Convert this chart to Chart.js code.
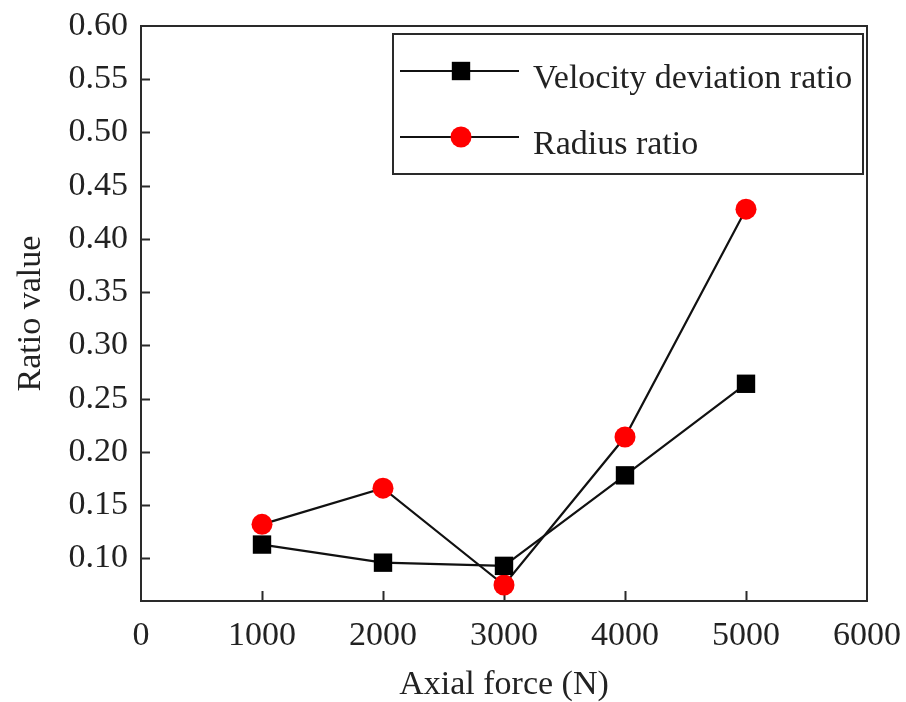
<!DOCTYPE html>
<html><head><meta charset="utf-8">
<script src="https://cdn.jsdelivr.net/npm/chart.js@4.4.0/dist/chart.umd.min.js"></script>
<style>html,body{margin:0;padding:0;background:#fff}#wrap{width:906px;height:702px}</style>
</head><body><div id="wrap"><canvas id="c" width="906" height="702"></canvas></div>
<script>
const axialForce = [1000, 2000, 3000, 4000, 5000];
const velocityDeviationRatio = [0.113, 0.096, 0.093, 0.178, 0.264];
const radiusRatio = [0.132, 0.166, 0.075, 0.214, 0.428];
const xTickValues = [0, 1000, 2000, 3000, 4000, 5000, 6000];
const yTickValues = [0.10, 0.15, 0.20, 0.25, 0.30, 0.35, 0.40, 0.45, 0.50, 0.55, 0.60];
const seriesNames = ['Velocity deviation ratio', 'Radius ratio'];

const FONT = "'Liberation Serif', 'Times New Roman', serif";
const FS = 34;
const TXT = '#222';
const AX = '#2a2a2a';

const framePlugin = {
  id: 'frame',
  beforeDatasetsDraw(chart) {
    const {ctx, chartArea: a, scales: {x, y}} = chart;
    ctx.save();
    ctx.strokeStyle = AX;
    ctx.lineWidth = 2;
    ctx.strokeRect(a.left, a.top, a.right - a.left, a.bottom - a.top);
    ctx.beginPath();
    xTickValues.forEach(v => {
      const px = Math.round(x.getPixelForValue(v)) + 0.5;
      if (px <= a.left + 2 || px >= a.right - 2) return;
      ctx.moveTo(px, a.bottom);
      ctx.lineTo(px, a.bottom - 10);
    });
    yTickValues.forEach(v => {
      const py = Math.round(y.getPixelForValue(v)) + 0.5;
      if (py <= a.top + 2 || py >= a.bottom - 2) return;
      ctx.moveTo(a.left, py);
      ctx.lineTo(a.left + 9, py);
    });
    ctx.stroke();
    ctx.restore();
  }
};

const legendPlugin = {
  id: 'boxLegend',
  afterDatasetsDraw(chart) {
    const {ctx} = chart;
    const bx = 393, by = 34, bw = 470, bh = 140;
    ctx.save();
    ctx.fillStyle = '#fff';
    ctx.fillRect(bx, by, bw, bh);
    ctx.strokeStyle = AX;
    ctx.lineWidth = 2;
    ctx.strokeRect(bx, by, bw, bh);
    const rows = [71, 137];
    chart.data.datasets.forEach((ds, i) => {
      const yy = rows[i];
      ctx.strokeStyle = ds.borderColor;
      ctx.lineWidth = ds.borderWidth;
      ctx.beginPath();
      ctx.moveTo(400, yy); ctx.lineTo(519, yy);
      ctx.stroke();
      ctx.fillStyle = ds.pointBackgroundColor;
      if (ds.pointStyle === 'rect') {
        const s = ds.pointRadius * Math.SQRT1_2;
        ctx.fillRect(461 - s, yy - s, 2 * s, 2 * s);
      } else {
        ctx.beginPath();
        ctx.arc(461, yy, ds.pointRadius, 0, Math.PI * 2);
        ctx.fill();
      }
      ctx.fillStyle = TXT;
      ctx.font = FS + 'px ' + FONT;
      ctx.textBaseline = 'alphabetic';
      ctx.textAlign = 'left';
      ctx.fillText(ds.label, 533, yy + 17);
    });
    ctx.restore();
  }
};

new Chart(document.getElementById('c'), {
  type: 'line',
  data: {
    datasets: [
      {
        label: seriesNames[0],
        data: axialForce.map((f, i) => ({x: f, y: velocityDeviationRatio[i]})),
        borderColor: '#111', borderWidth: 2.2,
        pointStyle: 'rect', pointRadius: 13, pointHoverRadius: 13,
        pointBackgroundColor: '#000', pointBorderWidth: 0,
        tension: 0, fill: false
      },
      {
        label: seriesNames[1],
        data: axialForce.map((f, i) => ({x: f, y: radiusRatio[i]})),
        borderColor: '#111', borderWidth: 2.2,
        pointStyle: 'circle', pointRadius: 10.5, pointHoverRadius: 10.5,
        pointBackgroundColor: '#ff0000', pointBorderWidth: 0,
        tension: 0, fill: false
      }
    ]
  },
  options: {
    responsive: false,
    animation: false,
    devicePixelRatio: 1,
    layout: {padding: {top: 26, right: 39, left: 0, bottom: 0}},
    plugins: {legend: {display: false}, tooltip: {enabled: false}},
    scales: {
      x: {
        type: 'linear', min: 0, max: 6000,
        afterBuildTicks: s => { s.ticks = xTickValues.map(v => ({value: v})); },
        afterFit: s => { s.height = 101; s.paddingLeft = 0; s.paddingRight = 0; },
        grid: {display: false, drawTicks: false},
        border: {display: false},
        ticks: {color: TXT, font: {family: FONT, size: FS}, padding: 15, maxRotation: 0, autoSkip: false,
          callback: v => String(v)},
        title: {display: true, text: 'Axial force (N)', color: TXT,
          font: {family: FONT, size: FS, lineHeight: 1}, padding: {top: 0, bottom: 0}}
      },
      y: {
        type: 'linear', min: 0.06, max: 0.60,
        afterBuildTicks: s => { s.ticks = yTickValues.map(v => ({value: v})); },
        afterFit: s => { s.width = 141; s.paddingTop = 0; s.paddingBottom = 0; },
        grid: {display: false, drawTicks: false},
        border: {display: false},
        ticks: {color: TXT, font: {family: FONT, size: FS}, padding: 13, autoSkip: false,
          callback: v => Number(v).toFixed(2)},
        title: {display: true, text: 'Ratio value', color: TXT,
          font: {family: FONT, size: FS, lineHeight: 1}, padding: {top: 14, bottom: 0}}
      }
    }
  },
  plugins: [framePlugin, legendPlugin]
});
</script></body></html>
